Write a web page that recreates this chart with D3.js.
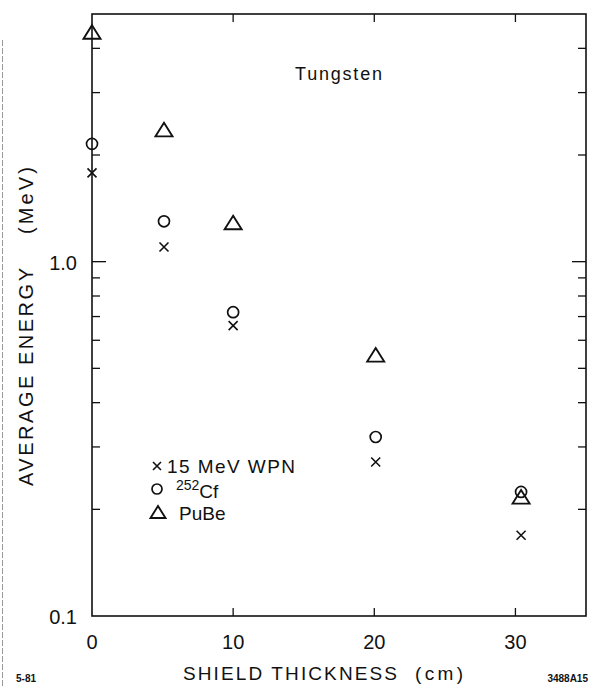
<!DOCTYPE html>
<html>
<head>
<meta charset="utf-8">
<script src="https://cdn.jsdelivr.net/npm/d3@7"></script>
<style>
  body { margin: 0; background: #fff; }
  svg { display: block; font-family: "Liberation Sans", Arial, sans-serif; }
</style>
</head>
<body>
<svg id="chart"></svg>
<script>
// data
const THICKNESS = [0, 5.1, 10, 20.1, 30.4];
const WPN = [1.78, 1.10, 0.66, 0.272, 0.169];
const CF = [2.15, 1.30, 0.72, 0.32, 0.224];
const PUBE = [4.45, 2.36, 1.29, 0.546, 0.217];
const X_TICKS = [0, 10, 20, 30];
const Y_LABELS = [0.1, 1.0];

const W = 595, H = 686;
const MARGIN = {left: 92, top: 14, right: 9, bottom: 70};

const svg = d3.select('#chart').attr('width', W).attr('height', H);

const x = d3.scaleLinear().domain([0, 35]).range([MARGIN.left, W - MARGIN.right]);
const y = d3.scaleLog().domain([0.1, 5]).range([H - MARGIN.bottom, MARGIN.top]);

// faint scan edge on the left
svg.append('line').attr('x1', 2.5).attr('x2', 2.5).attr('y1', 40).attr('y2', 686)
    .attr('stroke', '#999').attr('stroke-width', 1).attr('stroke-dasharray', '6,2');

// frame
svg.append('rect')
    .attr('x', x(0)).attr('y', y(5))
    .attr('width', x(35) - x(0)).attr('height', y(0.1) - y(5))
    .attr('fill', 'none').attr('stroke', '#111').attr('stroke-width', 1.6);

// log ticks, inward on both sides
const minor = [];
for (let d = 0.1; d < 5; d *= 10) {
    for (let k = 2; k <= 9; k++) if (d * k < 5) minor.push(d * k);
}
const tickG = svg.append('g').attr('stroke', '#111').attr('stroke-width', 1.3);
minor.forEach(v => {
    tickG.append('line').attr('x1', x(0)).attr('x2', x(0) + 8).attr('y1', y(v)).attr('y2', y(v));
    tickG.append('line').attr('x1', x(35)).attr('x2', x(35) - 8).attr('y1', y(v)).attr('y2', y(v));
});
[1].forEach(v => {
    tickG.append('line').attr('x1', x(0)).attr('x2', x(0) + 14).attr('y1', y(v)).attr('y2', y(v));
    tickG.append('line').attr('x1', x(35)).attr('x2', x(35) - 14).attr('y1', y(v)).attr('y2', y(v));
});
X_TICKS.filter(v => v > 0).forEach(v => {
    tickG.append('line').attr('x1', x(v)).attr('x2', x(v)).attr('y1', y(0.1)).attr('y2', y(0.1) - 8);
    tickG.append('line').attr('x1', x(v)).attr('x2', x(v)).attr('y1', y(5)).attr('y2', y(5) + 8);
});

// tick labels
svg.append('g').selectAll('text').data(X_TICKS).enter().append('text')
    .attr('x', d => x(d)).attr('y', y(0.1) + 33)
    .attr('text-anchor', 'middle').attr('font-size', 20).attr('fill', '#111')
    .text(d => d);
svg.append('g').selectAll('text').data(Y_LABELS).enter().append('text')
    .attr('x', x(0) - 15).attr('y', d => y(d) + 8)
    .attr('text-anchor', 'end').attr('font-size', 20).attr('fill', '#111')
    .text(d => d.toFixed(1));

// axis titles (stretched to the plotter lettering widths)
const titleX = svg.append('g').attr('font-size', 19).attr('fill', '#111');
titleX.append('text').attr('x', 183).attr('y', 680)
    .attr('textLength', 214).attr('lengthAdjust', 'spacing').text('SHIELD THICKNESS');
titleX.append('text').attr('x', 415).attr('y', 680)
    .attr('textLength', 48).attr('lengthAdjust', 'spacing').text('(cm)');

const titleY = svg.append('g').attr('font-size', 20).attr('fill', '#111')
    .attr('transform', 'translate(33,0) rotate(-90)');
titleY.append('text').attr('x', -486).attr('y', 0)
    .attr('textLength', 218).attr('lengthAdjust', 'spacing').text('AVERAGE ENERGY');
titleY.append('text').attr('x', -234).attr('y', 0)
    .attr('textLength', 67).attr('lengthAdjust', 'spacing').text('(MeV)');

svg.append('text').attr('x', 295).attr('y', 80)
    .attr('font-size', 18).attr('textLength', 87).attr('lengthAdjust', 'spacing')
    .attr('fill', '#111').text('Tungsten');

svg.append('text').attr('x', 16).attr('y', 682).attr('font-size', 10).attr('font-weight', 'bold')
    .attr('fill', '#111').text('5-81');
svg.append('text').attr('x', 588).attr('y', 682).attr('text-anchor', 'end').attr('font-size', 10)
    .attr('font-weight', 'bold').attr('fill', '#111').text('3488A15');

// markers
function cross(g, cx, cy, r) {
    g.append('path').attr('d', `M${cx - r},${cy - r}L${cx + r},${cy + r}M${cx - r},${cy + r}L${cx + r},${cy - r}`)
        .attr('stroke', '#111').attr('stroke-width', 1.6).attr('fill', 'none');
}
function circle(g, cx, cy, r) {
    g.append('circle').attr('cx', cx).attr('cy', cy).attr('r', r)
        .attr('stroke', '#111').attr('stroke-width', 1.7).attr('fill', 'none');
}
function triangle(g, cx, cy, s) {
    const h = s * 0.8;
    g.append('path').attr('d', `M${cx},${cy - h / 2}L${cx + s / 2},${cy + h / 2}L${cx - s / 2},${cy + h / 2}Z`)
        .attr('stroke', '#111').attr('stroke-width', 1.9).attr('fill', 'none');
}

const pts = svg.append('g');
THICKNESS.forEach((t, i) => {
    cross(pts, x(t), y(WPN[i]), 4.5);
    circle(pts, x(t), y(CF[i]), 5.5);
    triangle(pts, x(t), y(PUBE[i]), 17);
});

// legend
const lg = svg.append('g');
cross(lg, 157, 466, 4);
circle(lg, 157, 489, 5);
triangle(lg, 158, 512, 15);
lg.append('text').attr('x', 167).attr('y', 473).attr('font-size', 19)
    .attr('textLength', 128).attr('lengthAdjust', 'spacing').attr('fill', '#111').text('15 MeV WPN');
const cf = lg.append('text').attr('x', 176).attr('y', 498).attr('font-size', 19).attr('fill', '#111');
cf.append('tspan').attr('font-size', 14).attr('dy', -8).text('252');
cf.append('tspan').attr('dy', 8).text('Cf');
lg.append('text').attr('x', 179).attr('y', 520).attr('font-size', 19).attr('fill', '#111').text('PuBe');
</script>
</body>
</html>
